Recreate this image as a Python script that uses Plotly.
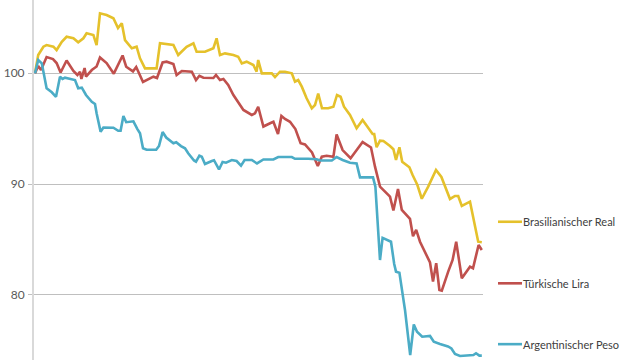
import plotly.graph_objects as go

# Series (x = time index, y = index value, start = 100)
real_x = [0, 0.8, 2.1, 2.9, 4.6, 5.4, 6.7, 7.9, 9.6, 10.8, 12.1, 12.9, 14.6, 15.4, 16.25, 17.9, 19.6, 20.75,
          21.7, 22.5, 24.2, 25.4, 26.25, 27.5, 30.4, 31.25, 34.6, 35.8, 37.9, 39.6, 40.4, 42.5, 44.6, 45.4,
          46.25, 47.5, 49.6, 50.8, 51.7, 52.9, 54.6, 55.4, 55.8, 56.7, 59.2, 60.0, 61.25, 62.5, 64.2, 65.0,
          65.8, 66.7, 67.9, 69.2, 70.0, 70.8, 71.75, 73.3, 74.6, 75.5, 76.4, 77.25, 78.75, 80.4, 81.9, 83.1,
          84.4, 84.8, 85.4, 86.25, 87.1, 88.75, 89.6, 90.25, 91.1, 91.8, 93.6, 94.4, 95.6, 96.7, 98.3, 100.25,
          101.6, 103.75, 105.0, 105.8, 106.7, 108.75, 109.6, 110.8, 111.7]
real_y = [100.0, 101.62, 102.37, 102.52, 102.37, 102.07, 102.82, 103.27, 103.13, 102.77, 103.13, 103.58,
          103.42, 102.52, 105.38, 105.23, 104.93, 104.05, 104.48, 102.97, 102.23, 102.37, 101.32, 100.42,
          100.42, 102.68, 102.52, 101.62, 102.37, 102.68, 101.92, 101.92, 102.23, 103.13, 101.62, 101.77,
          101.62, 101.47, 100.87, 101.02, 100.72, 100.12, 101.17, 99.97, 99.97, 99.64, 100.12, 100.12, 99.97,
          99.22, 99.37, 98.77, 97.72, 96.82, 97.12, 98.15, 96.82, 96.82, 96.96, 98.02, 97.86, 96.96, 96.22,
          95.02, 95.77, 95.16, 94.50, 94.50, 93.31, 93.90, 93.87, 93.42, 93.13, 92.16, 93.31, 92.01, 91.50,
          90.81, 89.91, 88.67, 89.76, 91.26, 90.63, 88.65, 88.92, 88.92, 88.02, 88.41, 86.76, 84.80, 84.75]

lira_x = [0, 0.8, 1.5, 2.9, 4.5, 5.4, 6.4, 7.9, 9.6, 10.6, 11.25, 11.6, 12.4, 12.75, 14.2, 15.4, 16.25, 17.9,
          19.7, 21.9, 22.8, 24.5, 25.3, 27.0, 29.6, 30.5, 31.9, 32.9, 34.6, 35.4, 36.7, 39.2, 40.25, 41.1,
          42.1, 44.6, 45.25, 46.25, 47.1, 48.3, 49.6, 50.8, 52.1, 54.2, 55.0, 55.8, 57.1, 58.9, 59.6, 60.75,
          61.6, 62.5, 63.75, 65.1, 66.4, 67.5, 68.3, 69.25, 70.7, 71.7, 72.9, 74.6, 75.4, 76.9, 78.9, 80.0,
          81.9, 84.0, 85.0, 86.25, 88.75, 89.6, 90.75, 91.7, 93.75, 94.5, 95.3, 96.25, 98.75, 99.5, 100.3,
          101.1, 101.7, 103.3, 104.4, 105.3, 106.7, 108.75, 109.5, 110.9, 111.7]
lira_y = [99.97, 100.63, 100.27, 101.44, 101.26, 100.90, 100.05, 101.13, 100.18, 99.82, 100.12, 99.46,
          100.45, 99.68, 100.27, 100.59, 101.40, 100.90, 99.94, 101.58, 100.57, 100.15, 100.54, 99.19, 99.67,
          99.55, 100.95, 101.02, 100.81, 99.82, 100.18, 100.12, 99.37, 99.75, 99.58, 99.55, 99.82, 99.37,
          99.46, 98.92, 98.02, 97.41, 96.67, 96.22, 96.37, 96.96, 95.18, 95.50, 95.61, 94.50, 96.13, 95.86,
          95.61, 94.95, 93.67, 93.56, 93.22, 92.84, 91.62, 92.46, 92.55, 92.46, 94.46, 93.06, 92.32, 92.88,
          93.78, 93.29, 91.56, 89.76, 88.86, 87.61, 89.55, 87.66, 86.85, 85.29, 85.86, 84.80, 82.93, 81.20,
          82.86, 80.45, 80.39, 82.10, 83.15, 84.80, 81.50, 82.55, 82.41, 84.50, 84.05]

peso_x = [0, 0.8, 1.7, 2.9, 4.2, 5.25, 6.25, 6.9, 7.5, 9.2, 10.0, 10.8, 11.7, 12.75, 14.2, 15.0, 15.4, 16.4,
          17.1, 19.6, 20.8, 21.4, 22.1, 22.8, 24.6, 25.6, 26.25, 27.0, 27.9, 30.3, 31.0, 31.9, 32.8, 34.6,
          35.3, 36.5, 37.5, 38.3, 39.75, 40.25, 41.1, 41.7, 42.5, 44.2, 44.75, 46.0, 46.9, 47.75, 49.2, 50.4,
          51.5, 52.4, 54.2, 55.5, 57.1, 59.6, 60.8, 64.2, 65.0, 68.3, 70.4, 71.25, 74.2, 75.4, 76.9, 78.75,
          80.4, 81.25, 84.5, 85.1, 85.8, 86.25, 86.9, 89.0, 89.8, 90.25, 91.1, 92.5, 93.8, 94.7, 95.5, 96.8,
          98.75, 99.7, 101.25, 103.25, 104.1, 105.0, 106.25, 109.6, 110.25, 111.1, 111.7]
peso_y = [99.97, 101.17, 100.87, 98.62, 98.26, 97.86, 99.67, 99.46, 99.58, 99.46, 99.37, 98.62, 98.68, 98.02,
          97.41, 97.21, 96.37, 94.71, 95.09, 95.07, 94.80, 94.80, 96.13, 95.57, 95.65, 94.95, 94.57, 93.22,
          93.09, 93.09, 93.42, 94.68, 94.19, 93.67, 93.76, 93.42, 93.22, 92.77, 92.12, 92.01, 92.55, 92.46,
          91.80, 92.07, 92.14, 91.31, 91.98, 91.92, 92.16, 92.07, 91.65, 92.16, 92.16, 91.85, 92.21, 92.21,
          92.43, 92.43, 92.27, 92.27, 92.23, 92.12, 92.12, 92.43, 92.16, 91.92, 91.86, 90.60, 90.60, 89.76,
          85.68, 83.15, 85.15, 84.80, 82.79, 82.10, 82.01, 78.65, 74.59, 77.34, 76.69, 76.24, 76.31, 75.79,
          75.59, 75.36, 75.18, 74.68, 74.50, 74.59, 74.75, 74.53, 74.53]

names = ["Brasilianischer Real", "Türkische Lira", "Argentinischer Peso"]
colors = ["#E5C12B", "#C0504D", "#4BACC6"]
y_ticks = [80, 90, 100]

fig = go.Figure()
for xs, ys, n, c in zip([real_x, lira_x, peso_x], [real_y, lira_y, peso_y], names, colors):
    fig.add_trace(go.Scatter(x=xs, y=ys, mode="lines", name=n,
                             line=dict(color=c, width=2.6), showlegend=False))

# custom legend (line sample + label) on the right
legend_y = [0.384, 0.213, 0.044]
for n, c, ly in zip(names, colors, legend_y):
    fig.add_shape(type="line", xref="paper", yref="paper", x0=1.0334, x1=1.0869, y0=ly, y1=ly,
                  line=dict(color=c, width=2.6))
    fig.add_annotation(xref="paper", yref="paper", x=1.0869, y=ly, text=n, showarrow=False,
                       xanchor="left", yanchor="middle", xshift=-1,
                       font=dict(family="Lato, Open Sans, sans-serif", size=11, color="#404040"))

fig.update_layout(
    width=640, height=360,
    margin=dict(l=34, r=157, t=0, b=0),
    paper_bgcolor="white", plot_bgcolor="white",
    font=dict(family="Lato, Open Sans, sans-serif", size=12, color="#595959"),
    xaxis=dict(range=[-0.25, 112], showgrid=False, showticklabels=False, zeroline=False,
               showline=False, ticks=""),
    yaxis=dict(range=[74.14, 106.58], tickvals=y_ticks, showgrid=True, gridcolor="#BFBFBF",
               gridwidth=1, zeroline=False, showline=True, linecolor="#D9D9D9", linewidth=2,
               ticks="outside", ticklen=4, tickcolor="#BFBFBF", ticklabelstandoff=1),
)

fig.write_html("out.html")
